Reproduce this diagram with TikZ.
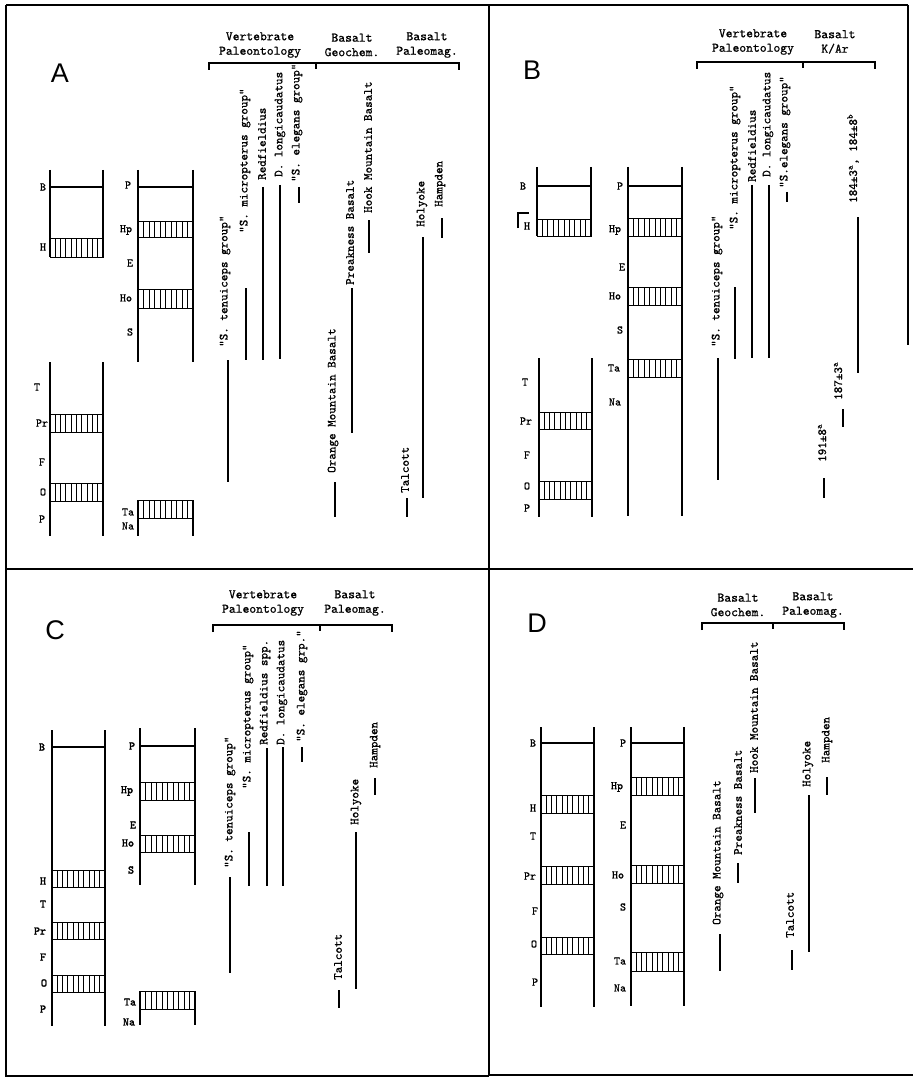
\documentclass[tikz,border=0pt]{standalone}
\usepackage{fontspec}
\setmainfont{Liberation Serif}
\newfontfamily\sansf{Liberation Sans}
\newfontfamily\twf[FakeBold=0.8]{lmmono10-regular.otf}
\newfontfamily\twfb[FakeBold=2.2]{lmmono10-regular.otf}
\newcommand\hatchband[4]{%
  \draw[bandln] (#1,#3) rectangle (#2,#4);
  \foreach \k in {1,...,9} \draw[bandln] ({#1+\k*(#2-#1)/10},#3) -- ({#1+\k*(#2-#1)/10},#4);
}
\newcommand\railpair[4]{\draw[rail] (#1,#3) -- (#1,#4) (#2,#3) -- (#2,#4);}
\newcommand\topbar[3]{\draw[thickln] (#1,#3) -- (#2,#3);}
\newcommand\rangebar[3]{\draw[rangeln] (#1,#2) -- (#1,#3);}
\newcommand\hbracket[4]{%
  \draw[brkln] (#1,#4+7) -- (#1,#4) -- (#2,#4) -- (#2,#4+7);
  \draw[brkln] (#3,#4) -- (#3,#4+6);}
\begin{document}
\begin{tikzpicture}[x=1pt,y=-1pt,
  rail/.style={line width=1.3pt},
  thickln/.style={line width=2.2pt},
  bandln/.style={line width=1pt},
  rangeln/.style={line width=1.4pt},
  brkln/.style={line width=1.8pt},
  frameln/.style={line width=2pt},
  vlab/.style={rotate=90, anchor=west, inner sep=0pt, font=\twf\fontsize{12.5}{14}\selectfont},
  hdr/.style={align=center, inner sep=0pt, font=\twf\fontsize{13}{14.5}\selectfont},
  slab/.style={inner sep=0pt, font=\twf\fontsize{11.5}{13}\selectfont},
  sbold/.style={inner sep=0pt, font=\twfb\fontsize{11.5}{13}\selectfont},
  plab/.style={inner sep=0pt, font=\sansf\fontsize{27}{30}\selectfont}]
\useasboundingbox (0,0) rectangle (913,1078);
\fill[white] (0,0) rectangle (913,1078);
% frames
\draw[frameln] (6,5) -- (908,5);
\draw[frameln] (6,5) -- (6,1076) -- (489,1076);
\draw[frameln] (489,5) -- (489,1076);
\draw[frameln] (6,569) -- (913,569);
\draw[frameln] (489,1075) -- (913,1075);
\draw[frameln] (908,5) -- (908,345);

% ================= PANEL A =================
\node[plab] (pA) at (60,73) {A};
\node[hdr] (aH1) at (260,45) {Vertebrate\\Paleontology};
\node[hdr] (aH2) at (352,45) {Basalt\\Geochem.};
\node[hdr] (aH3) at (427,45) {Basalt\\Paleomag.};
\hbracket{209}{459}{316}{63}
% left upper ladder
\railpair{50}{103}{170}{257}
\topbar{50}{103}{187}
\hatchband{50}{103}{238}{257}
\node[slab] (aB) at (43,187) {B};
\node[slab] (aHh) at (43,247) {H};
% left lower ladder
\railpair{50}{103}{362}{536}
\hatchband{50}{103}{414}{432}
\hatchband{50}{103}{483}{501}
\node[slab] (aT) at (37,387) {T};
\node[slab] (aPr) at (42,423) {Pr};
\node[slab] (aF) at (42,462) {F};
\node[slab] (aO) at (43,492) {O};
\node[slab] (aP) at (42,519) {P};
% column 2
\railpair{138}{193}{170}{362}
\topbar{138}{193}{187}
\hatchband{138}{193}{221}{237}
\hatchband{138}{193}{289}{308}
\node[slab] (aP2) at (128,185) {P};
\node[slab] (aHp) at (126,230) {Hp};
\node[slab] (aE) at (130,263) {E};
\node[slab] (aHo) at (126,298) {Ho};
\node[slab] (aS) at (130,332) {S};
\railpair{138}{193}{500}{536}
\hatchband{138}{193}{500}{518}
\node[slab] (aTa) at (128,512) {Ta};
\node[slab] (aNa) at (128,526) {Na};
% ranges
\node[vlab] (aL1) at (225,347) {"S. tenuiceps group"};
\rangebar{228}{360}{482}
\node[vlab] (aL2) at (245,233) {"S. micropterus group"};
\rangebar{246}{288}{360}
\node[vlab] (aL3) at (262,180) {Redfieldius};
\rangebar{263}{187}{360}
\node[vlab] (aL4) at (280,177) {D. longicaudatus};
\rangebar{280}{185}{359}
\node[vlab] (aL5) at (297,182) {"S. elegans group"};
\rangebar{299}{187}{203}
\node[vlab] (aL6) at (333,473) {Orange Mountain Basalt};
\rangebar{335}{482}{517}
\node[vlab] (aL7) at (350,285) {Preakness Basalt};
\rangebar{352}{288}{433}
\node[vlab] (aL8) at (368,213) {Hook Mountain Basalt};
\rangebar{369}{220}{253}
\node[vlab] (aL9) at (405,493) {Talcott};
\rangebar{407}{498}{517}
\node[vlab] (aL10) at (422,227) {Holyoke};
\rangebar{423}{237}{498}
\node[vlab] (aL11) at (440,207) {Hampden};
\rangebar{442}{218}{238}

% ================= PANEL B =================
\node[plab] (pB) at (532,70) {B};
\node[hdr] (bH1) at (753,42) {Vertebrate\\Paleontology};
\node[hdr] (bH2) at (835,42) {Basalt\\K/Ar};
\hbracket{697}{875}{803}{62}
% left upper ladder
\railpair{537}{591}{167}{236}
\topbar{537}{591}{186}
\hatchband{537}{591}{219}{236}
\node[slab] (bB) at (523,186) {B};
\node[slab] (bHh) at (527,226) {H};
\draw[rail] (518,228) -- (518,213) -- (529,213);
% left lower ladder
\railpair{539}{592}{358}{517}
\hatchband{539}{592}{412}{429}
\hatchband{539}{592}{481}{499}
\node[slab] (bT) at (525,382) {T};
\node[slab] (bPr) at (526,421) {Pr};
\node[slab] (bF) at (527,455) {F};
\node[slab] (bO) at (527,486) {O};
\node[slab] (bP) at (527,508) {P};
% column 2
\railpair{628}{682}{167}{516}
\topbar{628}{682}{186}
\hatchband{628}{682}{218}{236}
\hatchband{628}{682}{287}{305}
\hatchband{628}{682}{359}{377}
\node[slab] (bP2) at (620,186) {P};
\node[slab] (bHp) at (615,230) {Hp};
\node[slab] (bE) at (622,267) {E};
\node[slab] (bHo) at (615,296) {Ho};
\node[slab] (bS) at (620,330) {S};
\node[slab] (bTa) at (614,368) {Ta};
\node[slab] (bNa) at (615,402) {Na};
% ranges
\node[vlab] (bL1) at (717,347) {"S. tenuiceps group"};
\rangebar{718}{358}{480}
\node[vlab] (bL2) at (735,230) {"S. micropterus group"};
\rangebar{735}{287}{359}
\node[vlab] (bL3) at (752,182) {Redfieldius};
\rangebar{752}{185}{358}
\node[vlab] (bL4) at (768,177) {D. longicaudatus};
\rangebar{769}{185}{358}
\node[vlab] (bL5) at (785,188) {"S.elegans group"};
\rangebar{787}{192}{202}
\node[vlab] (bL6) at (853,203) {184±3\textsuperscript{a}, 184±8\textsuperscript{b}};
\rangebar{858}{217}{373}
\node[vlab] (bL7) at (838,400) {187±3\textsuperscript{a}};
\rangebar{843}{409}{427}
\node[vlab] (bL8) at (822,462) {191±8\textsuperscript{a}};
\rangebar{824}{478}{498}

% ================= PANEL C =================
\node[plab] (pC) at (55,630) {C};
\node[hdr] (cH1) at (263,603) {Vertebrate\\Paleontology};
\node[hdr] (cH2) at (355,603) {Basalt\\Paleomag.};
\hbracket{213}{392}{320}{625}
% left ladder
\railpair{52}{105}{730}{1026}
\topbar{52}{105}{747}
\hatchband{52}{105}{870}{887}
\hatchband{52}{105}{922}{939}
\hatchband{52}{105}{975}{992}
\node[sbold] (cB) at (42,747) {B};
\node[sbold] (cHh) at (43,881) {H};
\node[sbold] (cT) at (43,904) {T};
\node[sbold] (cPr) at (40,931) {Pr};
\node[sbold] (cF) at (43,957) {F};
\node[sbold] (cO) at (44,983) {O};
\node[sbold] (cP) at (43,1009) {P};
% column 2
\railpair{140}{195}{728}{885}
\topbar{140}{195}{746}
\hatchband{140}{195}{782}{800}
\hatchband{140}{195}{835}{852}
\node[sbold] (cP2) at (132,746) {P};
\node[sbold] (cHp) at (127,791) {Hp};
\node[sbold] (cE) at (133,825) {E};
\node[sbold] (cHo) at (128,843) {Ho};
\node[sbold] (cS) at (131,870) {S};
\railpair{140}{195}{991}{1025}
\hatchband{140}{195}{991}{1009}
\node[sbold] (cTa) at (130,1002) {Ta};
\node[sbold] (cNa) at (129,1022) {Na};
% ranges
\node[vlab] (cL1) at (230,868) {"S. tenuiceps group"};
\rangebar{230}{877}{973}
\node[vlab] (cL2) at (248,789) {"S. micropterus group"};
\rangebar{249}{832}{886}
\node[vlab] (cL3) at (265,745) {Redfieldius spp.};
\rangebar{267}{748}{886}
\node[vlab] (cL4) at (282,745) {D. longicaudatus};
\rangebar{283}{747}{886}
\node[vlab] (cL5) at (302,742) {"S. elegans grp."};
\rangebar{302}{747}{762}
\node[vlab] (cL6) at (338,980) {Talcott};
\rangebar{339}{990}{1008}
\node[vlab] (cL7) at (356,825) {Holyoke};
\rangebar{356}{832}{989}
\node[vlab] (cL8) at (375,768) {Hampden};
\rangebar{375}{778}{795}

% ================= PANEL D =================
\node[plab] (pD) at (537,623) {D};
\node[hdr] (dH1) at (738,605) {Basalt\\Geochem.};
\node[hdr] (dH2) at (813,605) {Basalt\\Paleomag.};
\hbracket{702}{844}{773}{623}
% left ladder
\railpair{541}{594}{727}{1007}
\topbar{541}{594}{743}
\hatchband{541}{594}{795}{813}
\hatchband{541}{594}{866}{884}
\hatchband{541}{594}{937}{954}
\node[slab] (dB) at (533,743) {B};
\node[slab] (dHh) at (533,808) {H};
\node[slab] (dT) at (533,836) {T};
\node[slab] (dPr) at (530,876) {Pr};
\node[slab] (dF) at (535,911) {F};
\node[slab] (dO) at (534,944) {O};
\node[slab] (dP) at (535,982) {P};
% column 2
\railpair{631}{684}{727}{1006}
\topbar{631}{684}{743}
\hatchband{631}{684}{777}{795}
\hatchband{631}{684}{865}{883}
\hatchband{631}{684}{952}{971}
\node[slab] (dP2) at (623,743) {P};
\node[slab] (dHp) at (617,787) {Hp};
\node[slab] (dE) at (623,825) {E};
\node[slab] (dHo) at (618,875) {Ho};
\node[slab] (dS) at (623,907) {S};
\node[slab] (dTa) at (620,961) {Ta};
\node[slab] (dNa) at (620,988) {Na};
% ranges
\node[vlab] (dL1) at (718,925) {Orange Mountain Basalt};
\rangebar{720}{934}{971}
\node[vlab] (dL2) at (738,855) {Preakness Basalt};
\rangebar{738}{863}{883}
\node[vlab] (dL3) at (754,773) {Hook Mountain Basalt};
\rangebar{755}{778}{813}
\node[vlab] (dL4) at (790,938) {Talcott};
\rangebar{792}{950}{970}
\node[vlab] (dL5) at (808,787) {Holyoke};
\rangebar{809}{795}{952}
\node[vlab] (dL6) at (827,763) {Hampden};
\rangebar{827}{777}{795}
\end{tikzpicture}
\end{document}
